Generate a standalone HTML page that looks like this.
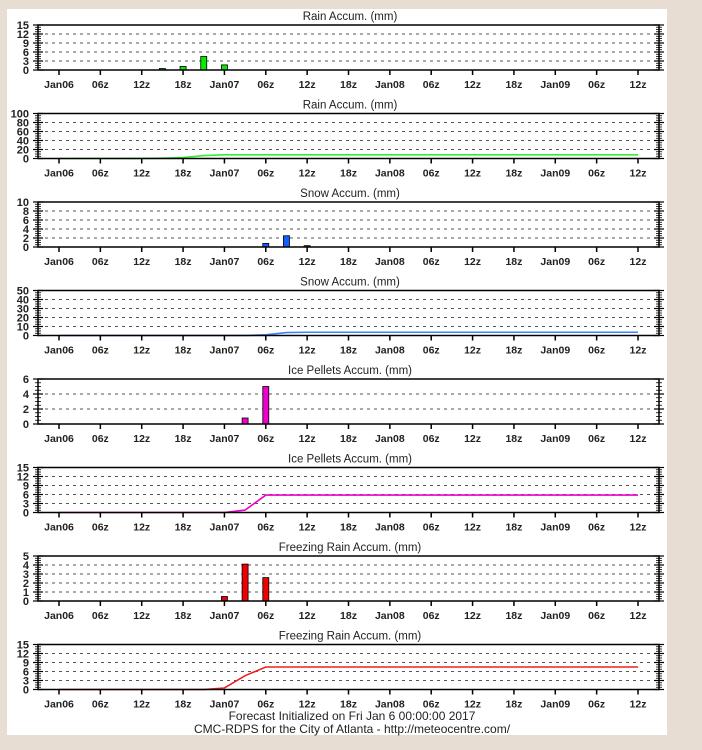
<!DOCTYPE html>
<html><head><meta charset="utf-8">
<style>
html,body{margin:0;padding:0;}
body{width:702px;height:750px;background:#e8ddd2;font-family:"Liberation Sans",Arial,sans-serif;overflow:hidden;}
#card{position:absolute;left:7px;top:9px;width:660px;height:726px;background:#fff;}
svg{position:absolute;left:0;top:0;}
</style></head><body>
<div id="card"></div>
<svg id="chart" width="702" height="750"></svg>
<script>
const xLabels=["Jan06","06z","12z","18z","Jan07","06z","12z","18z","Jan08","06z","12z","18z","Jan09","06z","12z"];
const titles=["Rain Accum. (mm)","Rain Accum. (mm)","Snow Accum. (mm)","Snow Accum. (mm)","Ice Pellets Accum. (mm)","Ice Pellets Accum. (mm)","Freezing Rain Accum. (mm)","Freezing Rain Accum. (mm)"];
const yTicks=[[0,3,6,9,12,15],[0,20,40,60,80,100],[0,2,4,6,8,10],[0,10,20,30,40,50],[0,2,4,6],[0,3,6,9,12,15],[0,1,2,3,4,5],[0,3,6,9,12,15]];
const kinds=["bar","line","bar","line","bar","line","bar","line"];
const colors=["#00ee00","#33ee33","#1060ff","#4080ff","#ee00cc","#ee00cc","#ee0000","#ee2020"];
// bar series: [hour, value]
const rainBarHours=[15,18,21,24];
const rainBarValues=[0.5,1.2,4.5,1.7];
const snowBarHours=[30,33,36];
const snowBarValues=[0.8,2.5,0.3];
const icepBarHours=[27,30];
const icepBarValues=[0.8,5.0];
const frzBarHours=[24,27,30];
const frzBarValues=[0.5,4.1,2.6];
// accumulation lines
const rainAccHours=[0,12,15,18,21,24,84];
const rainAccValues=[0,0.3,0.8,2.0,6.5,8.2,8.2];
const snowAccHours=[0,27,30,33,36,84];
const snowAccValues=[0,0,0.8,3.3,3.6,3.6];
const icepAccHours=[0,24,27,30,84];
const icepAccValues=[0,0,0.8,5.8,5.8];
const frzAccHours=[0,21,24,27,30,84];
const frzAccValues=[0,0,0.5,4.6,7.5,7.5];
const seriesH=[rainBarHours,rainAccHours,snowBarHours,snowAccHours,icepBarHours,icepAccHours,frzBarHours,frzAccHours];
const seriesV=[rainBarValues,rainAccValues,snowBarValues,snowAccValues,icepBarValues,icepAccValues,frzBarValues,frzAccValues];

const NS="http://www.w3.org/2000/svg";
const svg=document.getElementById("chart");
const L=38,R=659,X0=59,X84=638;
function xs(h){return X0+(X84-X0)*h/84;}
function mk(t,a,p){const e=document.createElementNS(NS,t);for(const k in a)e.setAttribute(k,a[k]);(p||svg).appendChild(e);return e;}
for(let i=0;i<8;i++){
  const top=25+88.5*i,bot=top+45;
  const g=mk("g",{});
  
  
  const ticks=yTicks[i],ymax=ticks[ticks.length-1];
  const ys=v=>bot-(bot-top)*v/ymax;
  const tt=mk("text",{x:350,y:top-5,"text-anchor":"middle","font-size":"11.5",fill:"#222"},g);
  tt.textContent=titles[i];
  
  
  // grid
  ticks.forEach((v,j)=>{
    if(j>0&&j<ticks.length-1) mk("line",{x1:L,x2:R,y1:ys(v),y2:ys(v),stroke:"#555","stroke-width":1,"stroke-dasharray":"3,4"},g);
    const lb=mk("text",{x:29,y:ys(v)+4,"text-anchor":"end","font-size":"11","font-weight":"bold",fill:"#222"},g);
    lb.textContent=v;
    
    
    mk("line",{x1:L-5,x2:L+5,y1:ys(v),y2:ys(v),stroke:"#000","stroke-width":1.2},g);
    mk("line",{x1:R-5,x2:R+5,y1:ys(v),y2:ys(v),stroke:"#000","stroke-width":1.2},g);
  });
  // minor ticks
  for(let j=0;j<ticks.length-1;j++){
    const step=(ticks[j+1]-ticks[j])/4;
    for(let m=1;m<4;m++){const y=ys(ticks[j]+m*step);
      mk("line",{x1:L-3,x2:L+3,y1:y,y2:y,stroke:"#000","stroke-width":0.8},g);
      mk("line",{x1:R-3,x2:R+3,y1:y,y2:y,stroke:"#000","stroke-width":0.8},g);}
  }
  // data
  const H=seriesH[i],V=seriesV[i];
  if(kinds[i]=="bar"){
    H.forEach((h,k)=>{const b=mk("rect",{x:xs(h)-3,y:ys(V[k]),width:6,height:bot-ys(V[k]),fill:colors[i],stroke:"#000","stroke-width":0.8},g);
      
      });
  } else {
    const p=mk("polyline",{points:H.map((h,k)=>xs(h)+","+ys(V[k])).join(" "),fill:"none",stroke:colors[i],"stroke-width":1.6},g);
    
    
  }
  // frame
  mk("rect",{x:L,y:top,width:R-L,height:bot-top,fill:"none",stroke:"#000","stroke-width":1.5},g);
  // x ticks
  xLabels.forEach((s,k)=>{const x=xs(k*6);
    mk("line",{x1:x,x2:x,y1:bot,y2:bot+5,stroke:"#000","stroke-width":1.5},g);
    const t=mk("text",{x:x,y:bot+18,"text-anchor":"middle","font-size":"10.5","font-weight":"bold",fill:"#222"},g);
    t.textContent=s;
    
    });
}
const f1=mk("text",{x:352,y:720,"text-anchor":"middle","font-size":"12",fill:"#222"});
f1.textContent="Forecast Initialized on Fri Jan  6 00:00:00 2017";


f1.setAttribute('xml:space','preserve');
const f2=mk("text",{x:352,y:733,"text-anchor":"middle","font-size":"12",fill:"#222"});
f2.textContent="CMC-RDPS for the City of Atlanta - http://meteocentre.com/";


</script>
</body></html>
